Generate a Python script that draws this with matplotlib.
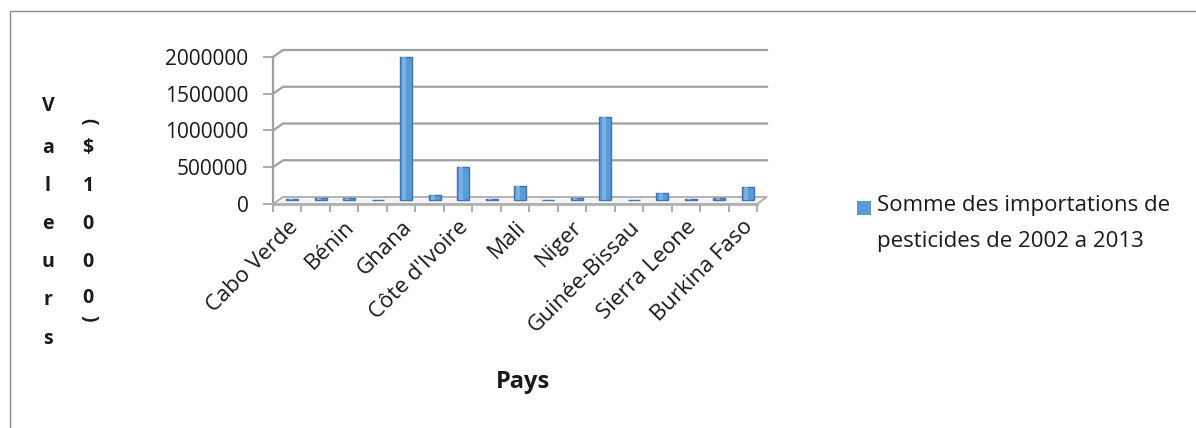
import matplotlib
matplotlib.use("Agg")
import matplotlib.pyplot as plt
from matplotlib.patches import Rectangle, Polygon
import numpy as np

# ---------------- data ----------------
countries = ["Cabo Verde", "Gambie", "Bénin", "Togo", "Ghana", "Sénégal",
             "Côte d'Ivoire", "Tchad", "Mali", "Mauritanie", "Niger", "Nigeria",
             "Guinée-Bissau", "Guinée", "Sierra Leone", "Libéria", "Burkina Faso"]
values = [25000, 40000, 40000, 10000, 1950000, 70000,
          450000, 25000, 200000, 5000, 35000, 1130000,
          5000, 100000, 20000, 40000, 190000]
yticks = [0, 500000, 1000000, 1500000, 2000000]
ytick_labels = ["0", "500000", "1000000", "1500000", "2000000"]
ylabel_col1 = list("Valeurs")
ylabel_col2 = ["(", "$", "1", "0", "0", "0", ")"]
xlabel = "Pays"
legend_lines = ["Somme des importations de", "pesticides de 2002 a 2013"]

# ---------------- style ----------------
FONT = "Open Sans"
plt.rcParams["font.family"] = [FONT, "DejaVu Sans"]
BAR = "#5B9BD5"
BAR_EDGE = "#3C74B2"
GRID = "#A0A0A0"
TXT = "#1a1a1a"

W, H = 1196, 428
fig = plt.figure(figsize=(W / 100, H / 100), dpi=100)
fig.patch.set_facecolor("white")

def fx(px):
    return px / W

def fy(py):
    return 1 - py / H

# outer chart border
fig.patches.append(Rectangle((fx(10), -0.05), 1.2, fy(11) + 0.05, transform=fig.transFigure,
                             fill=False, edgecolor="#8a8a8a", linewidth=1.0))

L, R, T, B = 273, 757, 57, 204
ax = fig.add_axes([fx(L), fy(B), (R - L) / W, (B - T) / H])
n = len(countries)
ax.set_xlim(-0.5, n - 0.5)
ax.set_ylim(0, 2000000)
ax.set_facecolor("none")

# pseudo-3D offsets (pixels -> data units)
px_x = (R - L) / n
px_y = (B - T) / 2000000
DX = 10 / px_x
DY = 7 / px_y

# floor
ax.add_patch(Polygon([(-0.5, 0), (n - 0.5, 0), (n - 0.5 + DX, DY), (-0.5 + DX, DY)],
                     closed=True, facecolor="#f4f4f4", edgecolor="#a8a8a8",
                     linewidth=1.2, clip_on=False, zorder=1))
# back-wall gridlines
for v in yticks[1:]:
    ax.plot([-0.5, -0.5 + DX, n - 0.5 + DX], [v, v + DY, v + DY],
            color=GRID, linewidth=1.6, clip_on=False, zorder=1, solid_joinstyle="round")

# bars
x = np.arange(n)
ax.bar(x + DX / 2, values, bottom=DY / 2, width=0.42, color=BAR,
       edgecolor=BAR_EDGE, linewidth=1.0, zorder=3, clip_on=False)
ax.bar(x + DX / 2 - 0.06, values, bottom=DY / 2, width=0.14, color="#84B7E6",
       linewidth=0, zorder=4, clip_on=False, alpha=0.8)

# spines
for s in ["top", "right"]:
    ax.spines[s].set_visible(False)
ax.spines["left"].set_color(GRID)
ax.spines["left"].set_linewidth(1.6)
ax.spines["bottom"].set_color("#b0b0b0")
ax.spines["bottom"].set_linewidth(2.0)

# y ticks
ax.set_yticks(yticks)
ax.set_yticklabels(ytick_labels)
ax.tick_params(axis="y", length=7.2, width=1.2, color=GRID, pad=10.5,
               labelsize=15, labelcolor=TXT)

# x ticks: minor = boundaries, major = labels on every other category
ax.set_xticks(np.arange(-0.5, n), minor=True)
ax.tick_params(axis="x", which="minor", length=6, width=1.2, color=GRID)
lab_idx = list(range(0, n, 2))
ax.set_xticks(lab_idx)
ax.set_xticklabels([countries[i] for i in lab_idx], rotation=45, ha="right",
                   rotation_mode="anchor")
ax.tick_params(axis="x", which="major", length=0, pad=9, labelsize=16, labelcolor=TXT)

# y-axis title, stacked characters
rows = [106, 148, 186, 224, 262, 300, 339]
for ch, yy in zip(ylabel_col1, rows):
    fig.text(fx(48), fy(yy), ch, ha="center", va="center", fontsize=14,
             fontweight="bold", color=TXT)
rows2 = [121, 148, 186, 224, 262, 298, 318]
for ch, yy in zip(ylabel_col2, rows2):
    rot = -90 if ch in "()" else 0
    fig.text(fx(88), fy(yy), ch, ha="center", va="center", fontsize=14,
             fontweight="bold", color=TXT, rotation=rot)

# x-axis title
fig.text(fx(523), fy(382), xlabel, ha="center", va="center", fontsize=17,
         fontweight="bold", color=TXT)

# legend
fig.patches.append(Rectangle((fx(857), fy(215)), 14 / W, 14 / H, transform=fig.transFigure,
                             facecolor=BAR, edgecolor="none"))
fig.text(fx(877), fy(206), legend_lines[0], ha="left", va="center", fontsize=16, color=TXT)
fig.text(fx(877), fy(241), legend_lines[1], ha="left", va="center", fontsize=16, color=TXT)

fig.savefig("out.png", dpi=100, facecolor="white")
